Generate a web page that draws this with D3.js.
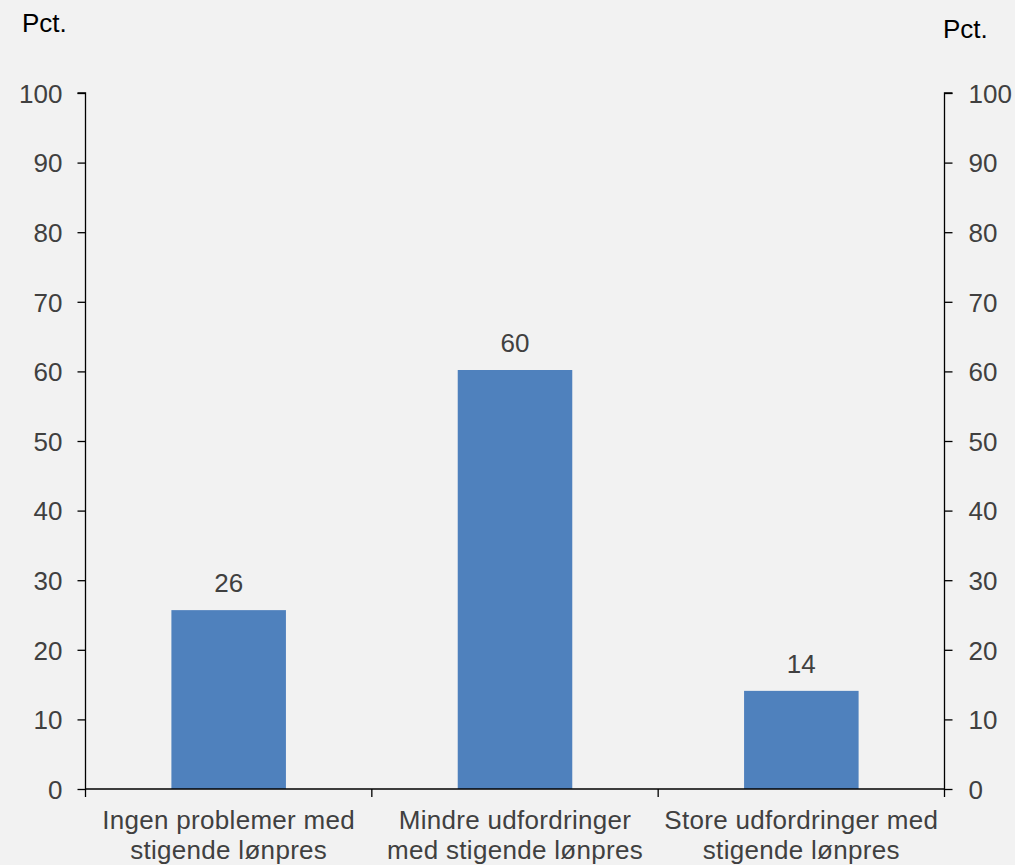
<!DOCTYPE html>
<html>
<head>
<meta charset="utf-8">
<script src="https://cdn.jsdelivr.net/npm/d3@7"></script>
<style>
  html, body { margin: 0; padding: 0; background: #f2f2f2; }
  svg { display: block; }
  text { font-family: "Liberation Sans", Arial, sans-serif; }
</style>
</head>
<body>
<svg id="chart" width="1015" height="865"></svg>
<script>
const categories = [
  ["Ingen problemer med", "stigende lønpres"],
  ["Mindre udfordringer", "med stigende lønpres"],
  ["Store udfordringer med", "stigende lønpres"]
];
const values = [25.7, 60.2, 14.1];
const yTicks = [0, 10, 20, 30, 40, 50, 60, 70, 80, 90, 100];
const unitLabel = "Pct.";

(function () {
const svg = d3.select("#chart");
const W = 1015, H = 865;
svg.append("rect").attr("width", W).attr("height", H).attr("fill", "#f2f2f2");

const mLeft = 85.5, mRight = 944.5, mTop = 93, mBottom = 789;
const fontSize = 26;
const textColor = "#404040";

const x = d3.scaleBand()
  .domain(d3.range(categories.length))
  .range([mLeft, mRight])
  .paddingInner(0.6)
  .paddingOuter(0.3);

const y = d3.scaleLinear().domain([0, 100]).range([mBottom, mTop]);

// bars
svg.append("g").selectAll("rect")
  .data(values)
  .join("rect")
  .attr("x", (d, i) => x(i))
  .attr("width", x.bandwidth())
  .attr("y", d => y(d))
  .attr("height", d => y(0) - y(d))
  .attr("fill", "#4f81bd");

// value labels
svg.append("g").selectAll("text")
  .data(values)
  .join("text")
  .attr("x", (d, i) => x(i) + x.bandwidth() / 2)
  .attr("y", d => y(d) - 18)
  .attr("text-anchor", "middle")
  .attr("font-size", fontSize)
  .attr("fill", textColor)
  .text(d => d3.format(".0f")(d));

// left axis
const yAxisL = d3.axisLeft(y).tickValues(yTicks).tickSize(8).tickPadding(15);
const gL = svg.append("g").attr("transform", `translate(${mLeft},0)`).call(yAxisL);
// right axis
const yAxisR = d3.axisRight(y).tickValues(yTicks).tickSize(8).tickPadding(16);
const gR = svg.append("g").attr("transform", `translate(${mRight},0)`).call(yAxisR);

[[gL, -8], [gR, 8]].forEach(([g, s]) => {
  g.select(".domain").attr("stroke", "#000").attr("stroke-width", 1.3)
    .attr("d", `M${s},${mTop}H0V${mBottom}`);
  g.selectAll(".tick line").attr("stroke", "#000").attr("stroke-width", 1.3);
  g.selectAll(".tick text")
    .attr("font-size", fontSize)
    .attr("font-family", "Liberation Sans, Arial, sans-serif")
    .attr("fill", textColor)
    .attr("dy", "0.36em");
});

// x axis
const gX = svg.append("g").attr("transform", `translate(0,${mBottom})`);
gX.append("line")
  .attr("x1", mLeft).attr("x2", mRight)
  .attr("stroke", "#000").attr("stroke-width", 1.3);
const edgeScale = d3.scaleLinear().domain([0, categories.length]).range([mLeft, mRight]);
gX.selectAll("line.cat")
  .data(d3.range(categories.length + 1))
  .join("line")
  .attr("class", "cat")
  .attr("x1", d => edgeScale(d)).attr("x2", d => edgeScale(d))
  .attr("y1", 0).attr("y2", 8)
  .attr("stroke", "#000").attr("stroke-width", 1.3);

// category labels
const catG = svg.append("g");
categories.forEach((lines, i) => {
  const cx = x(i) + x.bandwidth() / 2;
  const t = catG.append("text")
    .attr("x", cx)
    .attr("y", 829)
    .attr("text-anchor", "middle")
    .attr("font-size", fontSize)
    .attr("letter-spacing", "0.3px")
    .attr("fill", textColor);
  lines.forEach((ln, j) => {
    t.append("tspan")
      .attr("x", cx)
      .attr("dy", j === 0 ? 0 : 30)
      .text(ln);
  });
});

// unit labels
svg.append("text").attr("x", 22).attr("y", 32)
  .attr("font-size", fontSize).attr("fill", "#000").text(unitLabel);
svg.append("text").attr("x", 943).attr("y", 38)
  .attr("font-size", fontSize).attr("fill", "#000").text(unitLabel);
})();
</script>
</body>
</html>
